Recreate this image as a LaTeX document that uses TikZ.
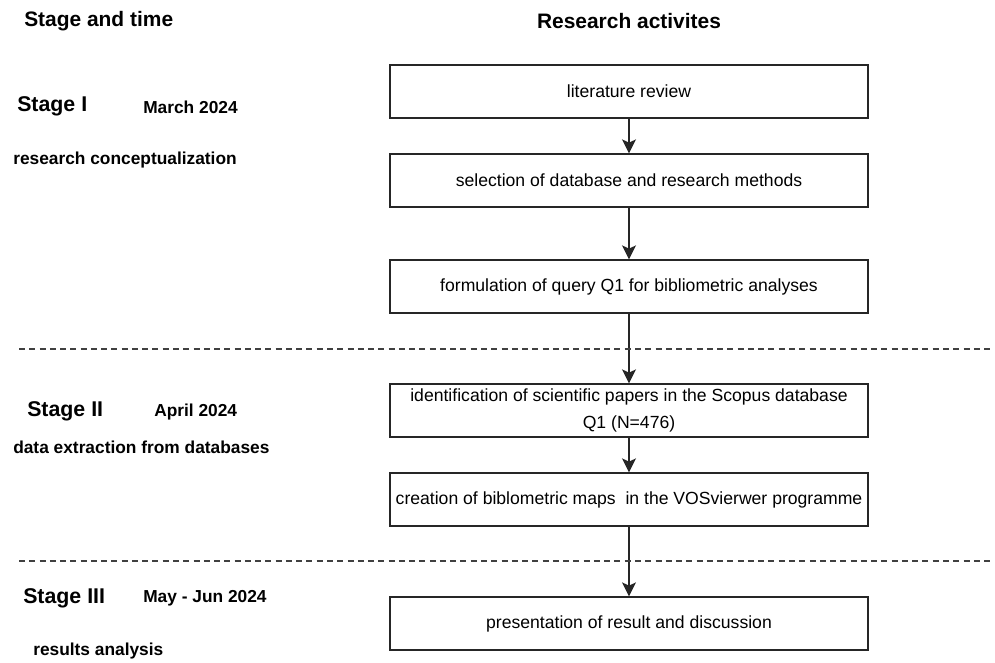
\documentclass[tikz,border=0pt]{standalone}
\usepackage{fontspec}
\setmainfont{Liberation Sans}
\usetikzlibrary{arrows.meta}

\tikzset{
    activity/.style={draw=black!85, line width=1pt, minimum width=358.5pt,
        minimum height=39.75pt, inner sep=0pt, align=center,
        font=\fontsize{13.2}{20}\selectfont},
    heading/.style={font=\fontsize{15.7}{18}\selectfont\bfseries, inner sep=0pt},
    stagename/.style={font=\fontsize{16}{18}\selectfont\bfseries, anchor=west, inner sep=0pt},
    stageinfo/.style={font=\fontsize{13}{16}\selectfont\bfseries, anchor=west, inner sep=0pt},
    flow/.style={draw=black!85, line width=1pt, -{Stealth[length=10.5pt, width=10.5pt, inset=2.5pt]}},
    divider/.style={draw=black!75, line width=1pt, dash pattern=on 4.5pt off 3.2pt}
}

\begin{document}
\begin{tikzpicture}[x=0.75pt, y=-0.75pt]
    \useasboundingbox (0, 0) rectangle (995, 662);

    % column headings
    \node[heading, anchor=west] (stagehead) at (24, 21) {Stage and time};
    \node[heading] (acthead) at (629, 21) {Research activites};

    % stage I
    \node[stagename] (stone) at (17, 106) {Stage I};
    \node[stageinfo] (dateone) at (143, 107) {March 2024};
    \node[stageinfo] (descone) at (13, 160) {research conceptualization};

    % stage II
    \node[stagename] (sttwo) at (27, 411) {Stage II};
    \node[stageinfo] (datetwo) at (154, 412) {April 2024};
    \node[stageinfo] (desctwo) at (13, 447) {data extraction from databases};

    % stage III
    \node[stagename] (stthree) at (23, 598) {Stage III};
    \node[stageinfo] (datethree) at (143, 598) {May - Jun 2024};
    \node[stageinfo] (descthree) at (33, 651) {results analysis};

    % activities
    \node[activity] (review) at (629, 91.5) {literature review};
    \node[activity] (select) at (629, 180.5) {selection of database and research methods};
    \node[activity] (query) at (629, 286.5) {formulation of query Q1 for bibliometric analyses};
    \node[activity] (ident) at (629, 410.5) {identification of scientific papers in the Scopus database\\Q1 (N=476)};
    \node[activity] (maps) at (629, 499.5) {creation of biblometric maps\ \ in the VOSvierwer programme};
    \node[activity] (result) at (629, 623.5) {presentation of result and discussion};

    \draw[flow] (review) -- (select);
    \draw[flow] (select) -- (query);
    \draw[flow] (query) -- (ident);
    \draw[flow] (ident) -- (maps);
    \draw[flow] (maps) -- (result);

    % stage borders
    \coordinate (cutone) at (19, 349);
    \coordinate (cutoneend) at (990, 349);
    \coordinate (cuttwo) at (19, 561);
    \coordinate (cuttwoend) at (990, 561);
    \draw[divider] (cutone) -- (cutoneend);
    \draw[divider] (cuttwo) -- (cuttwoend);
\end{tikzpicture}
\end{document}
